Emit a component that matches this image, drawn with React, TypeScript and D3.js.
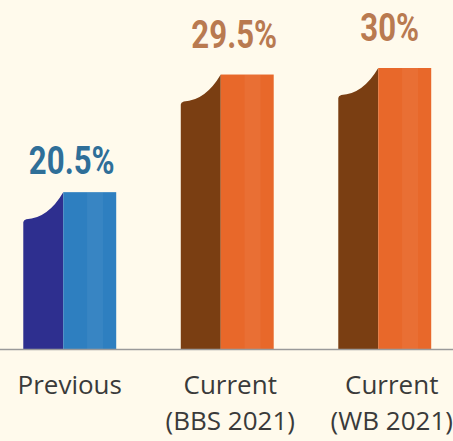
import { useEffect, useRef } from 'react'
import * as d3 from 'd3'

const categories = ['Previous', 'Current (BBS 2021)', 'Current (WB 2021)']
const labelLines = [['Previous'], ['Current', '(BBS 2021)'], ['Current', '(WB 2021)']]
const values = [20.5, 29.5, 30]
const valueLabels = ['20.5%', '29.5%', '30%']
const darkColors = ['#2e2f8f', '#7a3e12', '#7a3e12']
const lightColors = ['#2e7fc0', '#e8682a', '#e8682a']
const textColors = ['#2f6f98', '#b97a50', '#b97a50']

const width = 453
const height = 441

export default function App() {
  const svgRef = useRef<SVGSVGElement>(null)

  useEffect(() => {
    if (!svgRef.current) return
    const svg = d3.select(svgRef.current)
    svg.selectAll('*').remove()

    const baseline = 349

    const x = d3
      .scaleBand()
      .domain(categories)
      .range([-9, 463.5])
      .paddingInner(0.41)
      .paddingOuter(0.205)

    // infographic bars are not to zero, so the domain starts above it
    const y = d3.scaleLinear().domain([8.5, 30]).range([baseline, 68])

    svg.append('rect').attr('width', width).attr('height', height).attr('fill', '#fffaec')

    const bw = x.bandwidth()
    const darkW = bw * 0.43
    const drop = 28

    const g = svg.append('g')

    categories.forEach((c, i) => {
      const x0 = x(c) || 0
      const top = y(values[i])
      const xd = x0 + darkW

      // dark left part with curved "flag" top
      const p = d3.path()
      p.moveTo(x0, baseline)
      p.lineTo(x0, top + drop + 2)
      p.quadraticCurveTo(x0, top + drop, x0 + 3, top + drop - 1)
      p.quadraticCurveTo(x0 + darkW * 0.62, top + drop - 2, xd, top)
      p.lineTo(xd, baseline)
      p.closePath()
      g.append('path').attr('d', p.toString()).attr('fill', darkColors[i])

      // light right part
      g.append('rect')
        .attr('x', xd)
        .attr('y', top)
        .attr('width', x0 + bw - xd)
        .attr('height', baseline - top)
        .attr('fill', lightColors[i])

      g.append('rect')
        .attr('x', xd + (x0 + bw - xd) * 0.45)
        .attr('y', top)
        .attr('width', (x0 + bw - xd) * 0.3)
        .attr('height', baseline - top)
        .attr('fill', '#ffffff')
        .attr('opacity', 0.05)

      // value label, condensed by a horizontal scale
      const lx = x0 + bw / 2 + (i === 0 ? 2 : i === 1 ? 7 : 5)
      const ly = top - (i === 0 ? 18 : 27)
      g.append('text')
        .attr('transform', `translate(${lx},${ly}) scale(0.8,1)`)
        .attr('text-anchor', 'middle')
        .attr('font-family', 'Roboto, sans-serif')
        .attr('font-weight', 'bold')
        .attr('font-size', 39)
        .attr('fill', textColors[i])
        .attr('stroke', '#ffffff')
        .attr('stroke-width', 1)
        .attr('stroke-opacity', 0.5)
        .attr('paint-order', 'stroke')
        .text(valueLabels[i])

      labelLines[i].forEach((line, j) => {
        g.append('text')
          .attr('x', x0 + bw / 2 + (i === 0 ? 0 : i === 1 ? 3 : 7))
          .attr('y', 394 + j * 36)
          .attr('text-anchor', 'middle')
          .attr('font-family', '"Open Sans", sans-serif')
          .attr('font-size', 26)
          .attr('fill', '#3a3a3a')
          .text(line)
      })
    })

    svg.append('line')
      .attr('x1', 0)
      .attr('x2', width)
      .attr('y1', baseline + 0.5)
      .attr('y2', baseline + 0.5)
      .attr('stroke', '#9a9a9a')
      .attr('stroke-width', 1.5)
  }, [])

  return (
    <svg
      ref={svgRef}
      width={width}
      height={height}
      style={{ position: 'fixed', left: 0, top: 0, display: 'block' }}
    />
  )
}
